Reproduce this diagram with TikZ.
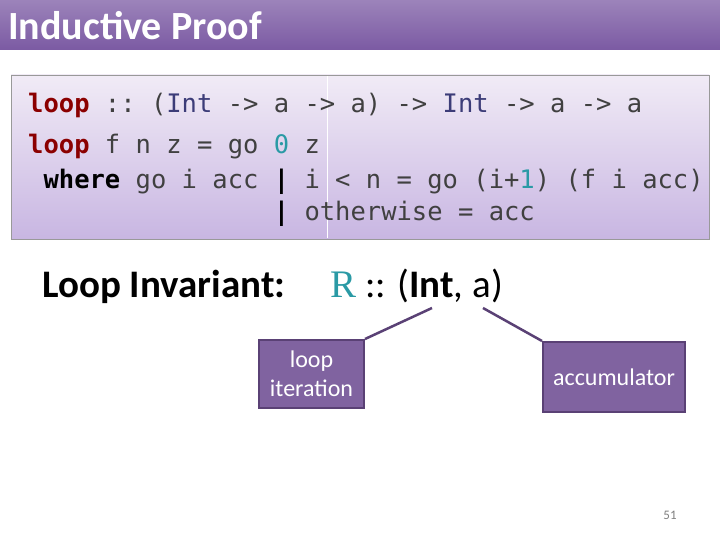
\documentclass[tikz,border=0pt]{standalone}
\usepackage{fontspec}
\setmainfont{Carlito}
\setmonofont{DejaVu Sans Mono}
\newfontfamily\rfont{Liberation Serif}
\definecolor{tpurp}{HTML}{7B5AA3}
\definecolor{bpurp}{HTML}{8063A0}
\definecolor{bedge}{HTML}{5A4175}
\definecolor{kw}{HTML}{8B0000}
\definecolor{ty}{HTML}{3C3C78}
\definecolor{num}{HTML}{2A9AA5}
\definecolor{codetxt}{HTML}{404040}
\definecolor{ctop}{HTML}{F1EBF6}
\definecolor{cbot}{HTML}{C8B6E2}
\tikzset{
  code/.style={anchor=base west,inner sep=0pt,font=\fontsize{25.5}{27}\ttfamily,text=codetxt},
  lbl/.style={draw=bedge,line width=2pt,fill=bpurp,text=white,font=\fontsize{24}{29}\selectfont,align=center,inner sep=0pt},
  conn/.style={draw=bedge,line width=2.5pt}
}
\begin{document}
\begin{tikzpicture}[x=1pt,y=-1pt]
\useasboundingbox (0,0) rectangle (720,540);
\fill[white] (0,0) rectangle (720,540);
\shade[top color=tpurp!75!white,bottom color=tpurp] (0,0) rectangle (720,50);
\node[anchor=west,text=white,font=\fontsize{40}{44}\bfseries\selectfont,inner sep=0pt] (title) at (8,26) {Inductive Proof};
\shade[top color=ctop,bottom color=cbot] (11,75) rectangle (709,239);
\draw[gray!80,line width=0.8pt] (11,75) rectangle (709,239);
\draw[white,line width=0.8pt] (327,76) -- (327,238);
\node[code] (l1) at (28,113) {\textcolor{kw}{\bfseries loop} :: (\textcolor{ty}{Int} -> a -> a) -> \textcolor{ty}{Int} -> a -> a};
\node[code] (l2) at (28,154) {\textcolor{kw}{\bfseries loop} f n z = go \textcolor{num}{0} z};
\node[code] (l3) at (28,189) {\ \textcolor{black}{\bfseries where} go i acc \textcolor{black}{\bfseries|} i < n = go (i+\textcolor{num}{1}) (f i acc)};
\node[code] (l4) at (28,221) {\ \ \ \ \ \ \ \ \ \ \ \ \ \ \ \ \textcolor{black}{\bfseries|} otherwise = acc};
\node[anchor=base west,inner sep=0pt,font=\fontsize{39}{42}\bfseries\selectfont] (li) at (42,297) {Loop Invariant:};
\node[anchor=base west,inner sep=0pt,font=\fontsize{39}{42}\selectfont] (r) at (330,297) {{\rfont\textcolor{num}{R}} :: ({\bfseries Int}, a)};
\node[lbl,minimum width=105pt,minimum height=68pt] (it) at (311.5,374) {loop\\iteration};
\node[lbl,minimum width=142pt,minimum height=70pt] (acc) at (614,377) {accumulator};
\coordinate (p1) at (432,308);
\coordinate (p2) at (483,308);
\draw[conn] (p1) -- (it.north east);
\draw[conn] (p2) -- (acc.north west);
\node[text=gray,font=\fontsize{13}{14}\selectfont,inner sep=0pt] (pg) at (670,515) {51};
\end{tikzpicture}
\end{document}
